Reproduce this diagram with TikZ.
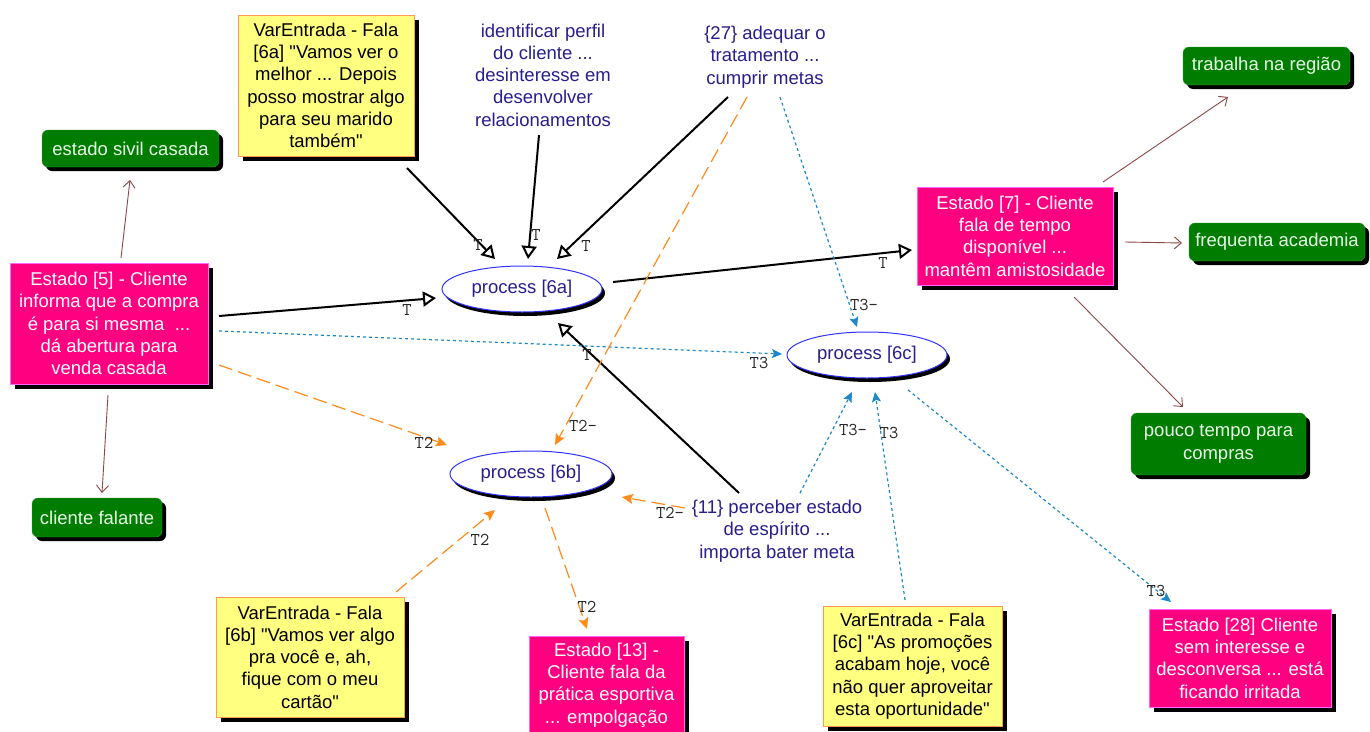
\documentclass[tikz,border=0pt]{standalone}
\usepackage{fontspec}
\setmainfont{Liberation Sans}[Ligatures=TeXOff]
\usetikzlibrary{arrows.meta,shapes.geometric,shadows,calc}

\definecolor{pinkfill}{RGB}{255,0,128}
\definecolor{pinkline}{RGB}{255,102,255}
\definecolor{yelfill}{RGB}{255,255,128}
\definecolor{yelline}{RGB}{255,153,85}
\definecolor{grnfill}{RGB}{0,125,0}
\definecolor{grntext}{RGB}{232,250,232}
\definecolor{navytext}{RGB}{40,30,140}
\definecolor{ellline}{RGB}{51,51,255}
\definecolor{bluecon}{RGB}{30,136,200}
\definecolor{orangecon}{RGB}{255,140,26}
\definecolor{browncon}{RGB}{140,70,70}

\begin{document}
\begin{tikzpicture}[x=1pt,y=-1pt,
  base/.style={font=\fontsize{18.5}{22.3}\selectfont, align=center, inner sep=0pt},
  shad/.style={general shadow={fill=black, shadow xshift=5pt, shadow yshift=-5pt}},
  estado/.style={base, shad, rectangle, fill=pinkfill, draw=pinkline, line width=1pt, text=white},
  fala/.style={base, shad, rectangle, fill=yelfill, draw=yelline, line width=1pt, text=black},
  attr/.style={base, general shadow={fill=black, shadow xshift=4pt, shadow yshift=-4pt}, rectangle, rounded corners=6pt, fill=grnfill, draw=grnfill!80!white, text=grntext},
  proc/.style={base, ellipse, fill=white, draw=ellline, line width=1pt, text=navytext, minimum width=160pt, minimum height=46pt, general shadow={fill=black, shadow xshift=3pt, shadow yshift=-4pt}},
  note/.style={base, text=navytext},
  lbl/.style={font=\ttfamily\fontsize{18}{18}\selectfont, text=black!85, inner sep=0pt},
  blk/.style={draw=black, line width=2pt, -{Triangle[open, length=13pt, width=15pt, line width=2pt]}},
  blu/.style={draw=bluecon, line width=1.2pt, dash pattern=on 3pt off 3pt, -{Stealth[length=10pt, width=9pt, inset=2pt]}},
  org/.style={draw=orangecon, line width=1.2pt, dash pattern=on 14pt off 6pt, -{Stealth[length=11pt, width=10pt, inset=2pt]}},
  brn/.style={draw=browncon, line width=0.9pt, -{Straight Barb[length=7pt, width=12pt]}},
]
\fill[white] (0,0) rectangle (1370,731);
\useasboundingbox (0,0) rectangle (1370,731);

% yellow speech boxes
\node[fala, minimum width=176pt, minimum height=141pt] (y6a) at (326,85.5)
  {VarEntrada - Fala\\{}[6a] "Vamos ver o\\melhor ... Depois\\posso mostrar algo\\para seu marido\\também"};
\node[fala, minimum width=188pt, minimum height=120pt] (y6b) at (310,657)
  {VarEntrada - Fala\\{}[6b] "Vamos ver algo\\pra você e, ah,\\fique com o meu\\cartão"};
\node[fala, minimum width=179pt, minimum height=120pt] (y6c) at (912.5,666)
  {VarEntrada - Fala\\{}[6c] "As promoções\\acabam hoje, você\\não quer aproveitar\\esta oportunidade"};

% estados
\node[estado, minimum width=198pt, minimum height=121pt] (e5) at (109,323.5)
  {Estado [5] - Cliente\\informa que a compra\\é para si mesma\ \ ...\\dá abertura para\\venda casada};
\node[estado, minimum width=196pt, minimum height=98pt] (e7) at (1015,236)
  {Estado [7] - Cliente\\fala de tempo\\disponível ...\\mantêm amistosidade};
\node[estado, minimum width=155pt, minimum height=98pt] (e13) at (606.5,685)
  {Estado [13] -\\Cliente fala da\\prática esportiva\\... empolgação};
\node[estado, minimum width=182pt, minimum height=98pt] (e28) at (1240,658)
  {Estado [28] Cliente\\sem interesse e\\desconversa ... está\\ficando irritada};

% attributes
\node[attr, minimum width=177pt, minimum height=37pt] (sivil) at (130.5,148.5) {estado sivil casada};
\node[attr, minimum width=130pt, minimum height=39pt] (falante) at (97,517.5) {cliente falante};
\node[attr, minimum width=167pt, minimum height=38pt] (trab) at (1266.5,66) {trabalha na região};
\node[attr, minimum width=176pt, minimum height=38pt] (freq) at (1277,242) {frequenta academia};
\node[attr, minimum width=175pt, minimum height=62pt] (pouco) at (1218.5,444) {pouco tempo para\\compras};

% processes
\node[proc] (p6a) at (522,289) {process [6a]};
\node[proc, minimum width=162pt] (p6b) at (531,474) {process [6b]};
\node[proc] (p6c) at (867,355) {process [6c]};

% notes
\node[note] (ident) at (543,75) {identificar perfil\\do cliente ...\\desinteresse em\\desenvolver\\relacionamentos};
\node[note] (t27) at (765,57) {\{27\} adequar o\\tratamento ...\\cumprir metas};
\node[note] (t11) at (777,531) {\{11\} perceber estado\\de espírito ...\\importa bater meta};

% black connectors
\draw[blk] ($(y6a)+(81,82.5)$) -- ($(p6a)+(-27,-30)$) node[lbl,pos=1,xshift=-17pt,yshift=14pt]{T};
\draw[blk] ($(ident)+(-4,60)$) -- ($(p6a)+(6,-30)$) node[lbl,pos=1,xshift=8pt,yshift=24pt]{T};
\draw[blk] ($(t27)+(-37,40)$) -- ($(p6a)+(35,-30)$) node[lbl,pos=1,xshift=29pt,yshift=13pt]{T};
\draw[blk] ($(e5)+(110,-7.5)$) -- ($(p6a)+(-86,9)$) node[lbl,pos=1,xshift=-29pt,yshift=-12pt]{T};
\draw[blk] ($(p6a)+(91,-7)$) -- ($(e7)+(-103,14)$) node[lbl,pos=1,xshift=-29pt,yshift=-13pt]{T};
\draw[blk] ($(t11)+(-38,-38)$) -- ($(p6a)+(36,34)$) node[lbl,pos=1,xshift=29pt,yshift=-32pt]{T};

% blue connectors
\draw[blu] ($(e5)+(110,7.5)$) -- ($(p6c)+(-85,-1)$) node[lbl,pos=1,xshift=-23pt,yshift=-9pt]{T3};
\draw[blu] ($(t27)+(15,40)$) -- ($(p6c)+(-10,-28)$) node[lbl,pos=1,xshift=7pt,yshift=22pt]{T3-};
\draw[blu] ($(t11)+(23,-38)$) -- ($(p6c)+(-15,37)$) node[lbl,pos=1,xshift=1pt,yshift=-38pt]{T3-};
\draw[blu] ($(y6c)+(-7.5,-66)$) -- ($(p6c)+(8,37)$) node[lbl,pos=1,xshift=14pt,yshift=-41pt]{T3};
\draw[blu] ($(p6c)+(41,35)$) -- ($(e28)+(-69,-56)$) node[lbl,pos=1,xshift=-15pt,yshift=11pt]{T3};

% orange connectors
\draw[org] ($(e5)+(110,41.5)$) -- ($(p6b)+(-84,-29)$) node[lbl,pos=1,xshift=-23pt,yshift=2pt]{T2};
\draw[org] ($(t27)+(-18,40)$) -- ($(p6b)+(24,-29)$) node[lbl,pos=1,xshift=28pt,yshift=19pt]{T2-};
\draw[org] ($(y6b)+(86,-65)$) -- ($(p6b)+(-36,36)$) node[lbl,pos=1,xshift=-15pt,yshift=-30pt]{T2};
\draw[org] ($(p6b)+(14,34)$) -- ($(e13)+(-19.5,-56)$) node[lbl,pos=1,xshift=0pt,yshift=22pt]{T2};
\draw[org] ($(t11)+(-92,-23)$) -- ($(p6b)+(91,23)$) node[lbl,pos=1,xshift=48pt,yshift=-16pt]{T2-};

% brown connectors
\draw[brn] ($(e5)+(12,-65.5)$) -- ($(sivil)+(-0.5,31.5)$);
\draw[brn] ($(e5)+(-1,71.5)$) -- ($(falante)+(5,-24.5)$);
\draw[brn] ($(e7)+(88,-54)$) -- ($(trab)+(-38.5,31)$);
\draw[brn] ($(e7)+(110,6)$) -- ($(freq)+(-95,1)$);
\draw[brn] ($(e7)+(59,61)$) -- ($(pouco)+(-35.5,-37)$);
\end{tikzpicture}
\end{document}
